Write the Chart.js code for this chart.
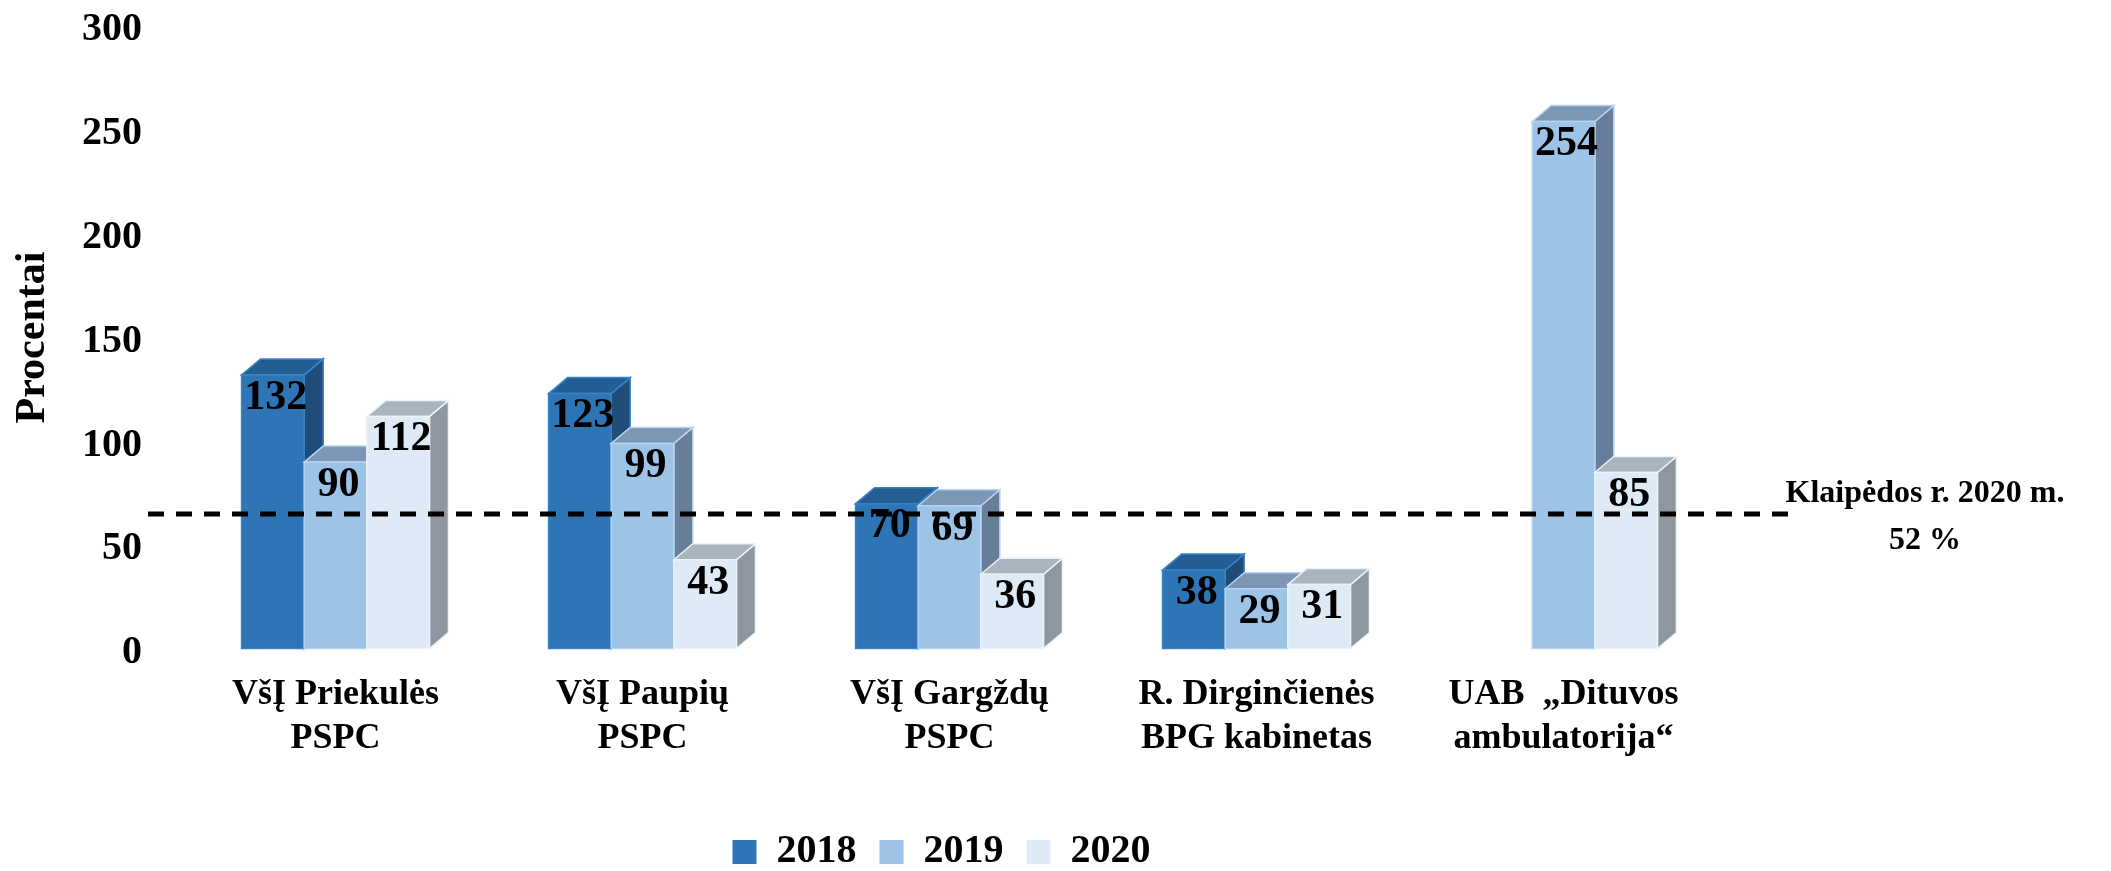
<!DOCTYPE html>
<html>
<head>
<meta charset="utf-8">
<script src="https://cdn.jsdelivr.net/npm/chart.js@4.4.1/dist/chart.umd.min.js"></script>
<style>
  html, body { margin: 0; padding: 0; background: #fff; }
  #wrap { width: 2111px; height: 871px; }
</style>
</head>
<body>
<div id="wrap"><canvas id="chart" width="2111" height="871"></canvas></div>
<script>
const categories = [
    ['VšĮ Priekulės', 'PSPC'],
    ['VšĮ Paupių', 'PSPC'],
    ['VšĮ Gargždų', 'PSPC'],
    ['R. Dirginčienės', 'BPG kabinetas'],
    ['UAB  „Dituvos', 'ambulatorija“']
];
const years = ['2018', '2019', '2020'];
const values2018 = [132, 123, 70, 38, null];
const values2019 = [90, 99, 69, 29, 254];
const values2020 = [112, 43, 36, 31, 85];
const yTicks = [0, 50, 100, 150, 200, 250, 300];
const referenceLevel = 65;
const referenceLabel = ['Klaipėdos r. 2020 m.', '52 %'];

const FONT = "'Liberation Serif', 'Times New Roman', serif";
const DEPTH_X = 19;
const DEPTH_Y = 16;

// 3D stulpeliai, duomenų žymos ir vidurkio linija
const bar3d = {
    id: 'bar3d',
    afterLayout(chart) {
        // legenda šiek tiek kairiau nei braižymo srities centras
        chart.legend.left -= 8;
        chart.legend.right -= 8;
    },
    beforeDatasetDraw() {
        return false;
    },
    afterDatasetsDraw(chart) {
        const ctx = chart.ctx;
        const poly = (pts, fill, stroke) => {
            ctx.beginPath();
            ctx.moveTo(pts[0][0], pts[0][1]);
            pts.slice(1).forEach(p => ctx.lineTo(p[0], p[1]));
            ctx.closePath();
            ctx.fillStyle = fill;
            ctx.fill();
            ctx.strokeStyle = stroke;
            ctx.lineWidth = 1.5;
            ctx.stroke();
        };

        ctx.save();
        chart.data.datasets.forEach((ds, i) => {
            const meta = chart.getDatasetMeta(i);
            meta.data.forEach((bar, j) => {
                if (ds.data[j] == null) return;
                const { x, y, base, width } = bar.getProps(['x', 'y', 'base', 'width'], true);
                const l = x - width / 2;
                const r = x + width / 2;
                poly([[r, y], [r + DEPTH_X, y - DEPTH_Y], [r + DEPTH_X, base - DEPTH_Y], [r, base]], ds.sideColor, ds.rimColor);
                poly([[l, y], [l + DEPTH_X, y - DEPTH_Y], [r + DEPTH_X, y - DEPTH_Y], [r, y]], ds.topColor, ds.rimColor);
                poly([[l, y], [r, y], [r, base], [l, base]], ds.backgroundColor, ds.rimColor);
            });
        });

        // Klaipėdos r. vidurkis
        const area = chart.chartArea;
        const ly = chart.scales.y.getPixelForValue(referenceLevel);
        ctx.beginPath();
        ctx.setLineDash([16, 12]);
        ctx.lineWidth = 5;
        ctx.strokeStyle = '#000';
        ctx.moveTo(area.left - 34, ly);
        ctx.lineTo(area.right + 71, ly);
        ctx.stroke();
        ctx.setLineDash([]);

        ctx.fillStyle = '#000';
        ctx.textAlign = 'center';
        ctx.textBaseline = 'middle';
        ctx.font = `bold 32px ${FONT}`;
        ctx.fillText(referenceLabel[0], area.right + 208, ly - 20);
        ctx.fillText(referenceLabel[1], area.right + 208, ly + 27);

        ctx.font = `bold 42px ${FONT}`;
        chart.data.datasets.forEach((ds, i) => {
            const meta = chart.getDatasetMeta(i);
            meta.data.forEach((bar, j) => {
                if (ds.data[j] == null) return;
                const { x, y } = bar.getProps(['x', 'y'], true);
                ctx.fillText(ds.data[j], x + 3, y + 23);
            });
        });
        ctx.restore();
    }
};

const ctx = document.getElementById('chart').getContext('2d');

new Chart(ctx, {
    type: 'bar',
    data: {
        labels: categories,
        datasets: [
            {
                label: years[0],
                data: values2018,
                backgroundColor: '#2E75B6',
                topColor: '#245D93',
                sideColor: '#1F4C78',
                rimColor: '#3A82C6'
            },
            {
                label: years[1],
                data: values2019,
                backgroundColor: '#9DC3E6',
                topColor: '#7C97B5',
                sideColor: '#677E98',
                rimColor: '#B7D3EE'
            },
            {
                label: years[2],
                data: values2020,
                backgroundColor: '#DEEBF7',
                topColor: '#AAB4BE',
                sideColor: '#8E979F',
                rimColor: '#EAF2FA'
            }
        ]
    },
    options: {
        responsive: false,
        animation: false,
        datasets: {
            bar: {
                categoryPercentage: 0.612,
                barPercentage: 1.0,
                borderWidth: 0
            }
        },
        layout: {
            padding: { top: 26, right: 394, bottom: -11, left: 0 }
        },
        plugins: {
            legend: {
                position: 'bottom',
                fullSize: false,
                labels: {
                    color: '#000',
                    font: { family: FONT, size: 40, weight: 'bold' },
                    boxWidth: 24,
                    boxHeight: 24,
                    padding: 23
                }
            },
            tooltip: { enabled: false }
        },
        scales: {
            x: {
                grid: { display: false, drawTicks: false },
                border: { display: false },
                ticks: {
                    color: '#000',
                    font: { family: FONT, size: 36, weight: 'bold', lineHeight: 1.22 },
                    padding: 24,
                    maxRotation: 0,
                    autoSkip: false
                },
                afterFit: scale => { scale.height = 160; }
            },
            y: {
                min: 0,
                max: 300,
                // nematomos žymės atitraukia skaičius nuo ašies
                grid: {
                    display: true,
                    color: 'rgba(0,0,0,0)',
                    drawOnChartArea: false,
                    drawTicks: true,
                    tickLength: 38
                },
                border: { display: false },
                afterBuildTicks: scale => {
                    scale.ticks = yTicks.map(v => ({ value: v }));
                },
                ticks: {
                    color: '#000',
                    font: { family: FONT, size: 40, weight: 'bold' },
                    padding: 2,
                    labelOffset: 4
                },
                title: {
                    display: true,
                    text: 'Procentai',
                    color: '#000',
                    font: { family: FONT, size: 42, weight: 'bold' },
                    padding: { top: 8, bottom: 0 }
                },
                afterFit: scale => { scale.width = 182; }
            }
        }
    },
    plugins: [bar3d]
});
</script>
</body>
</html>
